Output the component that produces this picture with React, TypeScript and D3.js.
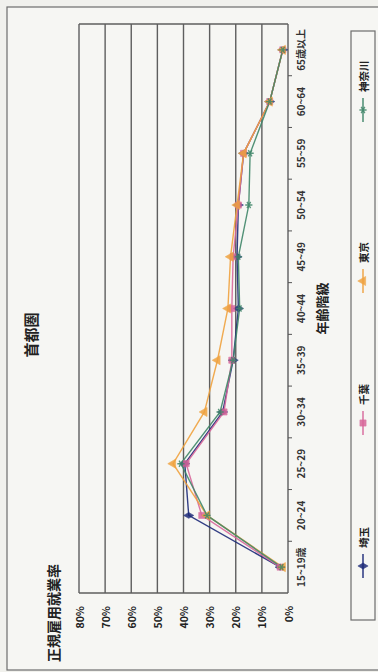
import React from "react";
import * as d3 from "d3";

// Age groups along the category axis
const categories = [
  "15~19歳",
  "20~24",
  "25~29",
  "30~34",
  "35~39",
  "40~44",
  "45~49",
  "50~54",
  "55~59",
  "60~64",
  "65歳以上",
];

// Regular employment rate (%) by prefecture
const saitama = [3, 38, 39.5, 25, 21, 19, 19.5, 19, 17, 7, 2];
const chiba = [3, 33, 39, 24.5, 21.5, 21.5, 21, 19, 17, 7, 2];
const tokyo = [2, 31, 44, 32, 27, 23, 22, 19.5, 17, 7, 2];
const kanagawa = [2.5, 31, 41, 26, 21, 18.5, 19, 15, 14.5, 7, 2];

const seriesNames = ["埼玉", "千葉", "東京", "神奈川"];
const yTicks = [0, 10, 20, 30, 40, 50, 60, 70, 80];

const FONT = "'Noto Sans CJK JP', 'Noto Sans', sans-serif";

// Chart is laid out landscape (W x H) and turned a quarter turn to fit the portrait page
const W = 672;

const plot = { left: 79, right: 648, top: 79, bottom: 288 };

const styles = [
  { color: "#1d2a78", symbol: d3.symbolDiamond, size: 30, fill: true },
  { color: "#d8679a", symbol: d3.symbolSquare, size: 38, fill: true },
  { color: "#f0a23e", symbol: d3.symbolTriangle, size: 36, fill: true },
  { color: "#3f8668", symbol: d3.symbolAsterisk, size: 36, fill: false },
];

export default function App() {
  const x = d3
    .scaleBand<string>()
    .domain(categories)
    .range([plot.left, plot.right]);
  const y = d3.scaleLinear().domain([0, 80]).range([plot.bottom, plot.top]);
  const cx = (c: string) => (x(c) as number) + x.bandwidth() / 2;

  const data = [saitama, chiba, tokyo, kanagawa];
  const line = d3
    .line<number>()
    .x((_, i) => cx(categories[i]))
    .y((d) => y(d));

  const legendPos = [94, 237, 379, 550];

  const markerPath = (k: number) =>
    d3.symbol().type(styles[k].symbol).size(styles[k].size)() as string;

  const marker = (k: number, px: number, py: number, key: string) => {
    const s = styles[k];
    return (
      <path
        key={key}
        d={markerPath(k)}
        transform={`translate(${px},${py})`}
        fill={s.fill ? s.color : "none"}
        stroke={s.color}
        strokeWidth={s.fill ? 0.6 : 1.4}
        opacity={0.85}
      />
    );
  };

  const gridColor = "#5e5e5e";

  return (
    <svg
      width={378}
      height={672}
      style={{ position: "absolute", left: 0, top: 0, background: "#f1f1ed" }}
    >
      <g transform={`translate(0,${W}) rotate(-90)`}>
        {/* outer frame */}
        <rect
          x={2}
          y={7}
          width={663}
          height={380}
          fill="#f6f6f3"
          stroke="#6d6d6d"
          strokeWidth={1.2}
        />

        {/* title */}
        <text
          x={337}
          y={30}
          textAnchor="middle"
          dominantBaseline="central"
          fontFamily={FONT}
          fontWeight="bold"
          fontSize={15}
          fill="#222"
        >
          首都圏
        </text>

        {/* value axis title */}
        <text
          x={10}
          y={53}
          dominantBaseline="central"
          fontFamily={FONT}
          fontWeight="bold"
          fontSize={14}
          fill="#222"
        >
          正規雇用就業率
        </text>

        {/* grid */}
        {yTicks.map((t) => (
          <line
            key={`g${t}`}
            x1={plot.left}
            x2={plot.right}
            y1={y(t)}
            y2={y(t)}
            stroke={gridColor}
            strokeWidth={1.4}
          />
        ))}
        <line
          x1={plot.left}
          x2={plot.left}
          y1={plot.top}
          y2={plot.bottom}
          stroke={gridColor}
          strokeWidth={1.4}
        />
        <line
          x1={plot.right}
          x2={plot.right}
          y1={plot.top}
          y2={plot.bottom}
          stroke={gridColor}
          strokeWidth={1.4}
        />

        {/* category ticks */}
        {categories.slice(1).map((c) => (
          <line
            key={`t${c}`}
            x1={x(c) as number}
            x2={x(c) as number}
            y1={plot.bottom}
            y2={plot.bottom + 4}
            stroke="#555"
            strokeWidth={1}
          />
        ))}

        {/* value tick labels */}
        {yTicks.map((t) => (
          <text
            key={`yl${t}`}
            x={66}
            y={y(t)}
            textAnchor="end"
            dominantBaseline="central"
            fontFamily={FONT}
            fontWeight="bold"
            fontSize={10.5}
            fill="#222"
          >
            {`${t}%`}
          </text>
        ))}

        {/* category labels */}
        {categories.map((c) => (
          <text
            key={`xl${c}`}
            x={cx(c)}
            y={300}
            textAnchor="middle"
            dominantBaseline="central"
            fontFamily={FONT}
            fontWeight="bold"
            fontSize={10}
            fill="#333"
          >
            {c}
          </text>
        ))}

        {/* category axis title */}
        <text
          x={(plot.left + plot.right) / 2}
          y={321}
          textAnchor="middle"
          dominantBaseline="central"
          fontFamily={FONT}
          fontWeight="bold"
          fontSize={13}
          fill="#222"
        >
          年齢階級
        </text>

        {/* series lines */}
        {data.map((vals, k) => (
          <path
            key={`l${k}`}
            d={line(vals) as string}
            fill="none"
            stroke={styles[k].color}
            strokeWidth={1.4}
            opacity={0.9}
          />
        ))}
        {data.map((vals, k) =>
          vals.map((v, i) => marker(k, cx(categories[i]), y(v), `m${k}-${i}`))
        )}

        {/* legend */}
        <rect
          x={52}
          y={351}
          width={589}
          height={24}
          fill="none"
          stroke="#6d6d6d"
          strokeWidth={1.2}
        />
        {seriesNames.map((name, k) => (
          <g key={`lg${k}`}>
            <line
              x1={legendPos[k]}
              x2={legendPos[k] + 24}
              y1={363}
              y2={363}
              stroke={styles[k].color}
              strokeWidth={1.4}
            />
            {marker(k, legendPos[k] + 12, 363, `lm${k}`)}
            <text
              x={legendPos[k] + 30}
              y={363}
              dominantBaseline="central"
              fontFamily={FONT}
              fontWeight="bold"
              fontSize={10.5}
              fill="#222"
            >
              {name}
            </text>
          </g>
        ))}
      </g>
    </svg>
  );
}
